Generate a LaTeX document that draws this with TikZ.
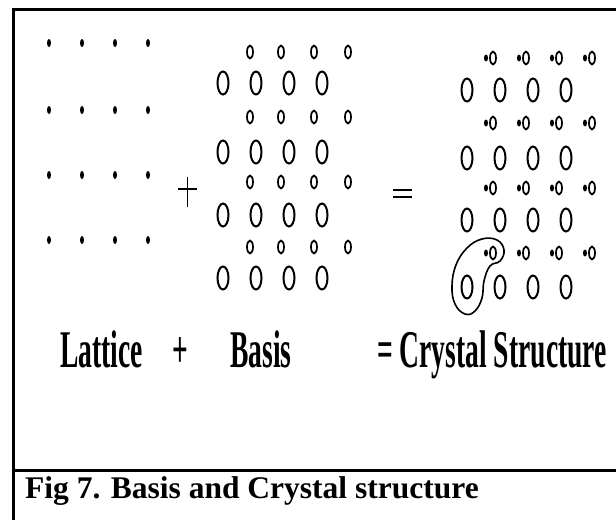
\documentclass[tikz,border=0pt]{standalone}
\usepackage{fontspec}
\setmainfont{Liberation Serif}
\tikzset{
    latdot/.style={fill=black},
    smallatom/.style={draw=black, line width=1.7pt},
    largeatom/.style={draw=black, line width=2pt},
    framerule/.style={draw=black, line width=3pt},
    bigword/.style={font=\bfseries\fontsize{53}{53}\selectfont, inner sep=0pt, anchor=base west}
}
\newcommand{\squeezed}[1]{\scalebox{0.52}[1]{#1}}

\begin{document}
\begin{tikzpicture}[x=1pt, y=-1pt]
\useasboundingbox (0,0) rectangle (616,520);
% frame
\draw[framerule] (13.5,520) -- (13.5,9.5) -- (616,9.5);
\draw[framerule] (12,470.5) -- (616,470.5);
% lattice
\foreach \x in {49,82,115,148}
  \foreach \y in {43,110,175,240}
    \fill[latdot] (\x,\y) ellipse [x radius=2pt, y radius=4pt];
% plus
\draw[line width=1.6pt] (178,189) -- (197,189) (187.5,177) -- (187.5,207);
% basis
\foreach \x in {250,281,314,348}
  \foreach \y in {52,117,182,247}
    \draw[smallatom] (\x,\y) ellipse [x radius=3pt, y radius=6.5pt];
\foreach \x in {223,256,289,322}
  \foreach \y in {83,152,215,278}
    \draw[largeatom] (\x,\y) ellipse [x radius=5.5pt, y radius=11.5pt];
% equals
\draw[line width=2pt] (393,190) -- (412,190) (393,197) -- (412,197);
% crystal structure
\foreach \x in {493,526,559,592}
  \foreach \y in {58,123,188,253} {
    \draw[smallatom] (\x,\y) ellipse [x radius=3pt, y radius=6.5pt];
    \fill[latdot] (\x-7,\y) ellipse [x radius=2pt, y radius=3.5pt];
  }
\foreach \x in {467,500,533,566}
  \foreach \y in {90,158,220,287}
    \draw[largeatom] (\x,\y) ellipse [x radius=5.5pt, y radius=11.5pt];
% basis outline
\draw[line width=1.6pt] plot[smooth cycle, tension=0.7] coordinates {
  (490,266) (484,281) (482,298) (475,311) (465,314) (455,304) (452,286)
  (456,265) (467,248) (482,239) (497,240) (504,250) (500,261)};
% labels
\node[bigword] (lattice) at (60,367) {\squeezed{Lattice}};
\node[bigword] (plus) at (172,367) {\squeezed{+}};
\node[bigword] (basis) at (230,367) {\squeezed{Basis}};
\node[bigword] (crystal) at (377,367) {\squeezed{= Crystal Structure}};
% caption
\node[font=\bfseries\fontsize{31.5}{31.5}\selectfont, inner sep=0pt, anchor=base west]
  (caption) at (25,498) {Fig 7. Basis and Crystal structure};
\end{tikzpicture}
\end{document}
